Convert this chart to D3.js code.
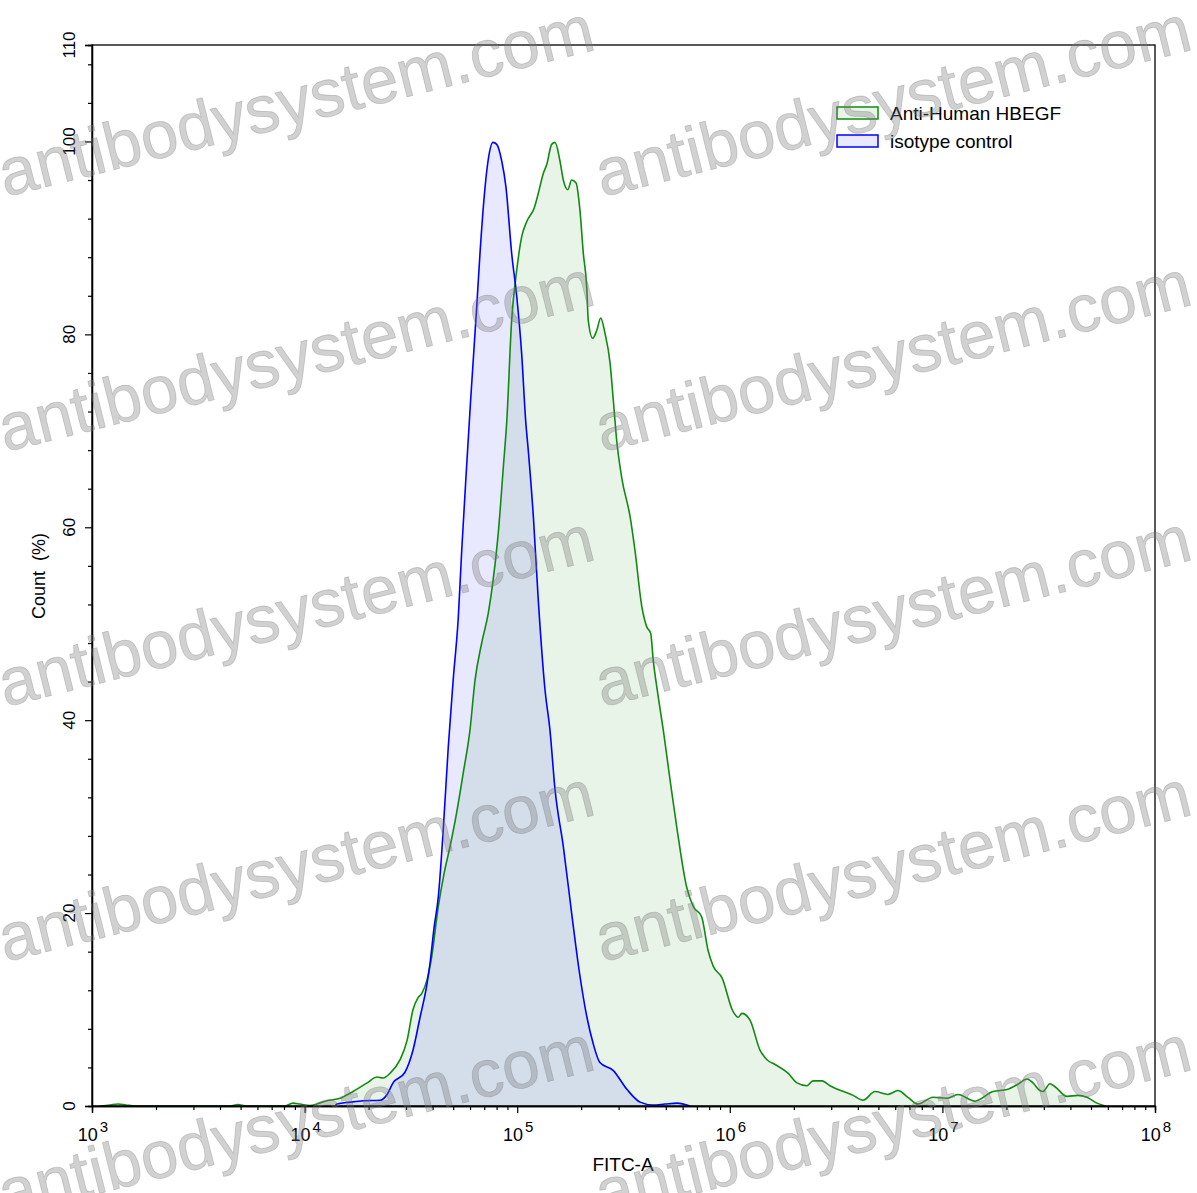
<!DOCTYPE html>
<html>
<head>
<meta charset="utf-8">
<script src="https://cdn.jsdelivr.net/npm/d3@7"></script>
<style>
  html, body { margin: 0; padding: 0; background: #fff; }
  svg { display: block; font-family: "Liberation Sans", Arial, sans-serif; }
</style>
</head>
<body>
<svg id="chart" width="1197" height="1193"></svg>
<script>
// ---- Data (log10 of FITC-A, Count %) ----
const seriesNames = ["Anti-Human HBEGF", "isotype control"];

const isoLogX = [4.143,4.152,4.214,4.275,4.355,4.388,4.416,4.472,4.510,4.543,4.576,4.590,4.609,4.629,4.652,4.676,4.699,4.723,4.739,4.762,4.781,4.810,4.825,4.849,4.863,4.886,4.904,4.927,4.947,4.974,4.998,5.021,5.040,5.052,5.076,5.099,5.131,5.154,5.178,5.217,5.256,5.291,5.328,5.357,5.389,5.451,5.517,5.578,5.639,5.695,5.752,5.813];
const isoCount = [0,0.2,0.4,0.55,0.6,1.2,2.4,3.5,5.8,9.2,12.7,14.8,18.5,21.7,28.6,37.3,44.2,50.7,57.6,66.3,73.2,83,88.4,95.3,98,99.9,99.7,98,95.3,88.4,83.9,78,71,68,61.1,52.5,43.1,39,32.8,26.9,20,14.1,9.2,6.5,4.5,3.7,1.7,0.4,0.1,0.2,0.3,0];

const hbLogX = [3.038,3.085,3.122,3.160,3.202,3.649,3.687,3.724,3.908,3.945,3.978,4.025,4.058,4.105,4.167,4.228,4.294,4.341,4.369,4.402,4.449,4.482,4.510,4.533,4.552,4.576,4.598,4.629,4.656,4.684,4.715,4.746,4.778,4.802,4.833,4.864,4.885,4.911,4.935,4.951,4.974,4.998,5.021,5.045,5.080,5.099,5.123,5.139,5.162,5.178,5.201,5.217,5.238,5.256,5.277,5.295,5.311,5.327,5.334,5.355,5.374,5.393,5.413,5.437,5.452,5.468,5.492,5.531,5.554,5.586,5.609,5.628,5.640,5.659,5.687,5.719,5.750,5.797,5.828,5.868,5.897,5.922,5.963,6.015,6.039,6.057,6.095,6.142,6.175,6.213,6.274,6.316,6.363,6.391,6.434,6.471,6.580,6.627,6.683,6.744,6.791,6.838,6.885,6.956,7.022,7.073,7.153,7.238,7.304,7.351,7.398,7.426,7.459,7.473,7.506,7.530,7.586,7.638,7.680,7.727,7.765];
const hbCount = [0,0.1,0.2,0.1,0,0,0.15,0,0,0.3,0.2,0.05,0.2,0.55,0.8,1.5,2.4,3.0,2.9,3.4,4.8,6.8,10,11.2,11.7,13.1,15.5,20.7,24.1,26.9,30.4,34.5,39,44.2,48,51.1,54.2,59.4,66.3,71,81.5,86.7,90.1,91.7,93.1,94.6,96.7,97.6,99.7,99.9,98,96,95,96,95.7,92.9,88.4,84.9,81.5,79.6,80.4,81.7,80.1,77,73.2,69,65.1,61.1,57.6,51.8,49.7,49,46.2,43.1,39,33.8,29,22.7,20.7,19.6,16.2,14.5,13.3,9.8,9.2,9.6,8.9,5.8,4.8,4.3,3.4,2.4,2.1,2.6,2.6,2.1,1.1,0.6,1.5,1.2,1.6,0.9,0.2,0.9,0.8,1.2,0.5,1.5,1.7,2.2,2.8,2.4,1.6,1.5,2.3,2.0,1.0,1.1,0.9,0.3,0];

const xDecades = [3,4,5,6,7,8];
const yMajorTicks = [0,20,40,60,80,100,110];
const yMinorTicks = [4,8,12,16,24,28,32,36,44,48,52,56,64,68,72,76,84,88,92,96,104,108];
const watermarkText = "antibodysystem.com";

// ---- Layout ----
const svg = d3.select("#chart");
const L = 92, R = 1155, T = 45, B = 1106;

const x = d3.scaleLog().domain([1e3, 1e8]).range([L, R]);
const y = d3.scaleLinear().domain([0, 110]).range([B, T]);

const isoData = isoLogX.map((v, i) => ({ fx: Math.pow(10, v), c: isoCount[i] }));
const hbData = hbLogX.map((v, i) => ({ fx: Math.pow(10, v), c: hbCount[i] }));

const area = d3.area().x(d => x(d.fx)).y0(y(0)).y1(d => y(d.c)).curve(d3.curveMonotoneX);
const line = d3.line().x(d => x(d.fx)).y(d => y(d.c)).curve(d3.curveMonotoneX);

const plot = svg.append("g");
plot.append("path").datum(hbData).attr("d", area)
  .attr("fill", "rgb(0,128,0)").attr("fill-opacity", 0.085);
plot.append("path").datum(isoData).attr("d", area)
  .attr("fill", "rgb(0,0,255)").attr("fill-opacity", 0.09);
plot.append("path").datum(hbData).attr("d", line)
  .attr("fill", "none").attr("stroke", "#118a11").attr("stroke-width", 1.6);
plot.append("path").datum(isoData).attr("d", line)
  .attr("fill", "none").attr("stroke", "#0000ff").attr("stroke-width", 1.6);

// ---- Frame ----
svg.append("rect").attr("x", L).attr("y", T).attr("width", R - L).attr("height", B - T)
  .attr("fill", "none").attr("stroke", "#000").attr("stroke-width", 1.3);

// ---- X axis ----
const xMinor = [];
for (let d = 3; d < 8; d++) for (let m = 2; m <= 9; m++) xMinor.push(m * Math.pow(10, d));
const xAxisMinor = d3.axisBottom(x).tickValues(xMinor).tickSize(4).tickFormat("");
const gxm = svg.append("g").attr("transform", `translate(0,${B})`).call(xAxisMinor);
const xAxisMajor = d3.axisBottom(x).tickValues(xDecades.map(d => Math.pow(10, d))).tickSize(7).tickFormat("");
const gx = svg.append("g").attr("transform", `translate(0,${B})`).call(xAxisMajor);
[gx, gxm].forEach(g => {
  g.select(".domain").attr("stroke", "#000").attr("stroke-width", 1.3);
  g.selectAll(".tick line").attr("stroke", "#000").attr("stroke-width", 1.2);
});
xDecades.forEach(d => {
  const t = svg.append("text").attr("x", x(Math.pow(10, d)) + 1).attr("y", 1141)
    .attr("text-anchor", "middle").attr("font-size", 18).attr("fill", "#000");
  t.append("tspan").text("10");
  t.append("tspan").attr("dx", 2).attr("dy", -9).attr("font-size", 15).text(String(d));
});
svg.append("text").attr("x", 623).attr("y", 1171).attr("text-anchor", "middle")
  .attr("font-size", 19).attr("fill", "#000").text("FITC-A");

// ---- Y axis ----
const yAxisMinor = d3.axisLeft(y).tickValues(yMinorTicks).tickSize(4).tickFormat("");
const gym = svg.append("g").attr("transform", `translate(${L},0)`).call(yAxisMinor);
const yAxisMajor = d3.axisLeft(y).tickValues(yMajorTicks).tickSize(7).tickFormat("");
const gy = svg.append("g").attr("transform", `translate(${L},0)`).call(yAxisMajor);
[gy, gym].forEach(g => {
  g.select(".domain").attr("stroke", "#000").attr("stroke-width", 1.3);
  g.selectAll(".tick line").attr("stroke", "#000").attr("stroke-width", 1.2);
});
yMajorTicks.forEach(v => {
  svg.append("text").attr("transform", `translate(75,${y(v)}) rotate(-90)`)
    .attr("text-anchor", "middle").attr("font-size", 17).attr("fill", "#000").text(String(v));
});
svg.append("text").attr("transform", `translate(45,576) rotate(-90)`)
  .attr("text-anchor", "middle").attr("font-size", 18).attr("fill", "#000")
  .attr("xml:space", "preserve").style("white-space", "pre").text("Count  (%)");

// ---- Legend ----
const legend = svg.append("g");
const legendStyles = [
  { stroke: "#118a11", fill: "rgb(0,128,0)", op: 0.085 },
  { stroke: "#0000ff", fill: "rgb(0,0,255)", op: 0.09 }
];
seriesNames.forEach((name, i) => {
  const yy = 107 + i * 28;
  legend.append("rect").attr("x", 837).attr("y", yy).attr("width", 41).attr("height", 12)
    .attr("fill", legendStyles[i].fill).attr("fill-opacity", legendStyles[i].op)
    .attr("stroke", legendStyles[i].stroke).attr("stroke-width", 1.5);
  legend.append("text").attr("x", 890).attr("y", yy + 13).attr("font-size", 19)
    .attr("fill", "#000").text(name);
});

// ---- Watermark ----
const wmRows = [197, 452, 707, 962, 1217];
const wmCols = [5, 602];
const wm = svg.append("g").attr("pointer-events", "none");
wmRows.forEach(ry => wmCols.forEach(cx => {
  wm.append("text").attr("transform", `translate(${cx},${ry}) rotate(-14)`)
    .attr("font-size", 67).attr("fill", "rgb(120,120,120)").attr("fill-opacity", 0.34)
    .attr("stroke", "rgb(120,120,120)").attr("stroke-opacity", 0.34).attr("stroke-width", 0.8)
    .text(watermarkText);
}));
</script>
</body>
</html>
